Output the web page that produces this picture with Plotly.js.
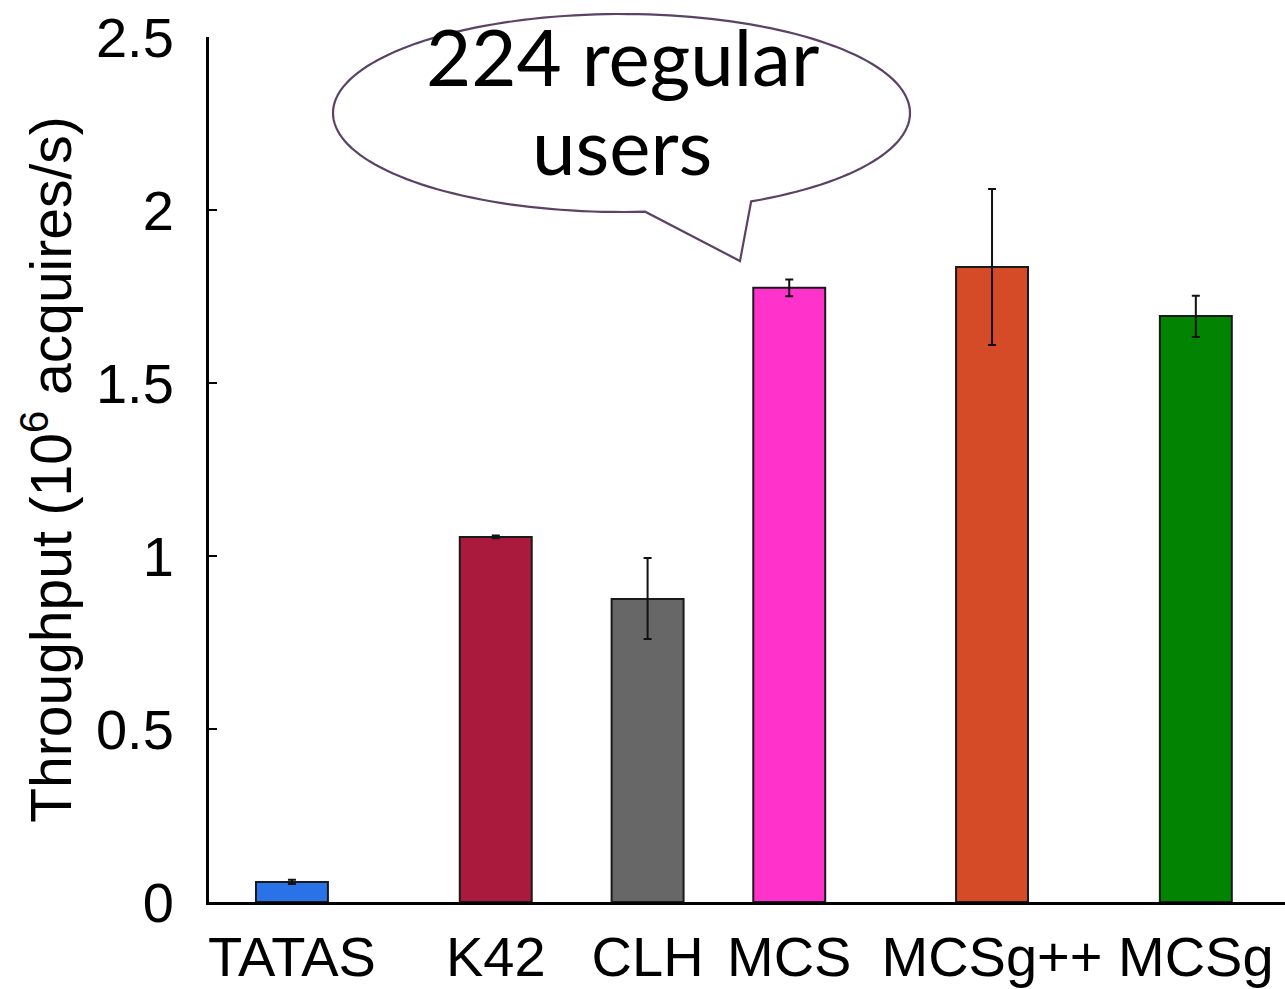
<!DOCTYPE html>
<html>
<head>
<meta charset="utf-8">
<script src="https://cdn.plot.ly/plotly-3.0.1.min.js"></script>
<style>html,body{margin:0;padding:0;background:#fff;}#chart{width:1285px;height:989px;}</style>
</head>
<body>
<div id="chart"></div>
<script>
// ---- data ----
const categories = ["TATAS", "K42", "CLH", "MCS", "MCSg++", "MCSg"];
const throughput = [0.058, 1.055, 0.876, 1.775, 1.835, 1.694];
const errPlus    = [0.006, 0.004, 0.118, 0.024, 0.226, 0.058];
const errMinus   = [0.006, 0.004, 0.116, 0.024, 0.225, 0.061];
const barColors  = ["#2a72e8", "#aa1a3c", "#676767", "#ff33cc", "#d54a27", "#028402"];
// category slot positions along the x axis (uneven spacing as in the original)
const barPos     = [0, 2, 3.49, 4.88, 6.87, 8.87];
const yTickVals  = [0, 0.5, 1, 1.5, 2, 2.5];
const yTickText  = ["0", "0.5", "1", "1.5", "2", "2.5"];
const bubbleLines = ["224 regular", "users"];

// ---- layout geometry (pixels) ----
const W = 1285, H = 989;
const M = {l: 209, r: 0, t: 37, b: 87};
const PW = W - M.l - M.r, PH = H - M.t - M.b;
const px2x = p => (p - M.l) / PW;          // pixel -> paper x
const py2y = p => (H - M.b - p) / PH;      // pixel -> paper y

// speech bubble path (ellipse + tail) in paper coords
const cx = 621.5, cy = 113, ra = 288.5, rb = 99;
const tStart = 63.3, tEnd = 85.3 - 360;
let pts = [];
const N = 160;
for (let i = 0; i <= N; i++) {
  const t = (tStart + (tEnd - tStart) * i / N) * Math.PI / 180;
  pts.push([cx + ra * Math.cos(t), cy + rb * Math.sin(t)]);
}
pts.push([740, 261]);
let path = pts.map((p, i) => (i === 0 ? "M" : "L") + px2x(p[0]).toFixed(5) + "," + py2y(p[1]).toFixed(5)).join(" ") + " Z";

const trace = {
  type: "bar",
  x: barPos,
  y: throughput,
  width: 0.706,
  marker: {color: barColors, line: {color: "#1a1a1a", width: 2}},
  error_y: {type: "data", symmetric: false, array: errPlus, arrayminus: errMinus,
            visible: true, color: "#111", thickness: 2, width: 4},
  hoverinfo: "skip"
};

const FONT = "Liberation Sans, Arial, Helvetica, sans-serif";
const layout = {
  width: W, height: H,
  margin: M,
  paper_bgcolor: "#fff", plot_bgcolor: "#fff",
  showlegend: false,
  font: {family: FONT, color: "#000", size: 56},
  xaxis: {
    range: [-0.814, 9.745],
    tickvals: barPos, ticktext: categories,
    ticks: "", showgrid: false, zeroline: false,
    showline: true, linecolor: "#000", linewidth: 3,
    tickfont: {family: FONT, size: 56, color: "#000"},
    ticklabelstandoff: 4
  },
  yaxis: {
    range: [0, 2.5],
    tickvals: yTickVals, ticktext: yTickText,
    ticks: "inside", ticklen: 8, tickwidth: 2, tickcolor: "#000",
    showgrid: false, zeroline: false,
    showline: true, linecolor: "#000", linewidth: 3,
    tickfont: {family: FONT, size: 56, color: "#000"},
    ticklabelstandoff: 21,
    title: {text: "Throughput (10<sup>6</sup> acquires/s)", font: {family: FONT, size: 57, color: "#000"}, standoff: 6}
  },
  shapes: [{
    type: "path", xref: "paper", yref: "paper", path: path,
    fillcolor: "#fff", line: {color: "#5c4266", width: 2.2}, layer: "above"
  }],
  annotations: [
    {xref: "paper", yref: "paper", x: px2x(622), y: py2y(56), xanchor: "center", yanchor: "middle",
     text: bubbleLines[0], showarrow: false, font: {family: "Lato, Open Sans, sans-serif", size: 78, color: "#000"}},
    {xref: "paper", yref: "paper", x: px2x(622), y: py2y(145), xanchor: "center", yanchor: "middle",
     text: bubbleLines[1], showarrow: false, font: {family: "Lato, Open Sans, sans-serif", size: 78, color: "#000"}}
  ]
};

Plotly.newPlot("chart", [trace], layout, {displayModeBar: false, staticPlot: true});
</script>
</body>
</html>
